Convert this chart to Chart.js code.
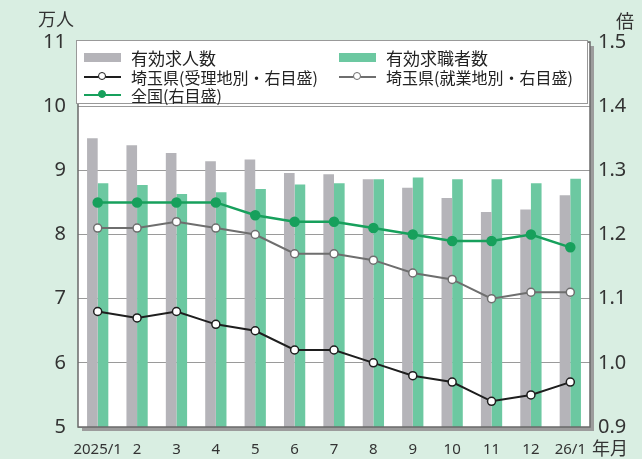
<!DOCTYPE html>
<html>
<head>
<meta charset="utf-8">
<script src="https://cdn.jsdelivr.net/npm/chart.js@4"></script>
<style>
body { margin: 0; background: #d9eee2; }
#wrap { position: relative; width: 642px; height: 459px; font-family: 'Noto Sans CJK JP', 'Noto Sans', sans-serif; color: #222; }
canvas { position: absolute; left: 0; top: 0; }
.unit { position: absolute; font-size: 18px; line-height: 20px; color: #333; }
#legend { position: absolute; left: 76px; top: 40px; width: 512px; height: 64px; background: #fff; border: 1px solid #999; box-sizing: border-box; }
.item { position: absolute; height: 18px; font-size: 16px; line-height: 18px; white-space: nowrap; }
.item.bar { font-size: 17px; }
.sw { position: absolute; left: 0; top: 4px; width: 37px; height: 9px; }
.ln { position: absolute; left: 0; top: 8px; width: 37px; height: 2px; }
.dot { position: absolute; left: 14px; top: 4px; width: 6px; height: 6px; border-radius: 50%; border: 1.5px solid; background: #fff; }
.txt { position: absolute; left: 47px; top: 0; }
</style>
</head>
<body>
<div id="wrap">
<canvas id="chart" width="642" height="459"></canvas>
<div class="unit" style="left:38px;top:8px">万人</div>
<div class="unit" style="left:616px;top:10px">倍</div>
<div class="unit" style="left:592px;top:437px">年月</div>
<div id="legend"></div>
</div>
<script>
const months = ['2025/1', '2', '3', '4', '5', '6', '7', '8', '9', '10', '11', '12', '26/1'];
const jobOffers = [9.50, 9.39, 9.27, 9.14, 9.17, 8.96, 8.94, 8.86, 8.73, 8.57, 8.35, 8.39, 8.61];
const jobSeekers = [8.80, 8.77, 8.63, 8.66, 8.71, 8.78, 8.80, 8.86, 8.89, 8.86, 8.86, 8.80, 8.87];
const saitamaReceipt = [1.08, 1.07, 1.08, 1.06, 1.05, 1.02, 1.02, 1.00, 0.98, 0.97, 0.94, 0.95, 0.97];
const saitamaWork = [1.21, 1.21, 1.22, 1.21, 1.20, 1.17, 1.17, 1.16, 1.14, 1.13, 1.10, 1.11, 1.11];
const national = [1.25, 1.25, 1.25, 1.25, 1.23, 1.22, 1.22, 1.21, 1.20, 1.19, 1.19, 1.20, 1.18];

const GRAY_BAR = '#b5b4b9';
const GREEN_BAR = '#6cc8a1';
const BLACK_LINE = '#1e1e1e';
const GRAY_LINE = '#6e6e6e';
const GREEN_LINE = '#17a05c';

// white plot area, shadow and frame
const framePlugin = {
    id: 'frame',
    beforeDraw(chart) {
        const { ctx, chartArea: a } = chart;
        ctx.save();
        ctx.fillStyle = '#9c9c9c';
        ctx.fillRect(a.left + 4, a.top + 4, a.right - a.left, a.bottom - a.top);
        ctx.fillStyle = '#fff';
        ctx.fillRect(a.left, a.top, a.right - a.left, a.bottom - a.top);
        ctx.restore();
    },
    afterDatasetsDraw(chart) {
        const { ctx, chartArea: a } = chart;
        ctx.save();
        ctx.strokeStyle = '#6a6a6a';
        ctx.lineWidth = 1.5;
        ctx.strokeRect(a.left, a.top, a.right - a.left, a.bottom - a.top);
        ctx.restore();
    }
};

const tickFont = { family: "'Noto Sans', sans-serif", size: 20 };

const chart = new Chart(document.getElementById('chart'), {
    data: {
        labels: months,
        datasets: [
            { type: 'bar', label: '有効求人数', data: jobOffers, backgroundColor: GRAY_BAR, yAxisID: 'y', order: 2, categoryPercentage: 0.54, barPercentage: 1.0 },
            { type: 'bar', label: '有効求職者数', data: jobSeekers, backgroundColor: GREEN_BAR, yAxisID: 'y', order: 2, categoryPercentage: 0.54, barPercentage: 1.0 },
            { type: 'line', label: '埼玉県(受理地別・右目盛)', data: saitamaReceipt, yAxisID: 'y1', order: 0,
              borderColor: BLACK_LINE, borderWidth: 2, pointRadius: 4, pointBackgroundColor: '#fff', pointBorderColor: BLACK_LINE, pointBorderWidth: 1.5 },
            { type: 'line', label: '埼玉県(就業地別・右目盛)', data: saitamaWork, yAxisID: 'y1', order: 1,
              borderColor: GRAY_LINE, borderWidth: 2, pointRadius: 4, pointBackgroundColor: '#fff', pointBorderColor: GRAY_LINE, pointBorderWidth: 1.5 },
            { type: 'line', label: '全国(右目盛)', data: national, yAxisID: 'y1', order: 0,
              borderColor: GREEN_LINE, borderWidth: 2.5, pointRadius: 4, pointBackgroundColor: GREEN_LINE, pointBorderColor: GREEN_LINE }
        ]
    },
    options: {
        responsive: false,
        animation: false,
        layout: { padding: { top: 42, left: 0, right: 0, bottom: 0 } },
        plugins: { legend: { display: false }, tooltip: { enabled: false } },
        scales: {
            x: {
                grid: { display: false },
                border: { display: false },
                ticks: { autoSkip: false, maxRotation: 0, color: '#333', padding: 6,
                         font: { family: "'Noto Sans', sans-serif", size: 15 } },
                afterFit(scale) { scale.height = 32; }
            },
            y: {
                position: 'left',
                min: 5, max: 11,
                ticks: { stepSize: 1, color: '#333', padding: 12, font: tickFont },
                grid: { color: '#9a9a9a', lineWidth: 1, drawTicks: false },
                border: { display: false },
                afterFit(scale) { scale.width = 78; }
            },
            y1: {
                position: 'right',
                min: 0.9, max: 1.5,
                ticks: { stepSize: 0.1, color: '#333', padding: 8, font: tickFont,
                         callback: v => Number(v).toFixed(1) },
                grid: { display: false, drawTicks: false },
                border: { display: false },
                afterFit(scale) { scale.width = 52; }
            }
        }
    },
    plugins: [framePlugin]
});

// HTML legend in two columns, taken from the dataset labels
const legendPos = [
    [7, 8], [262, 8], [7, 27], [262, 27], [7, 45]
];
const legend = document.getElementById('legend');
chart.data.datasets.forEach((ds, i) => {
    const it = document.createElement('div');
    it.className = 'item' + (ds.type === 'bar' ? ' bar' : '');
    it.style.left = legendPos[i][0] + 'px';
    it.style.top = legendPos[i][1] + 'px';
    let mark;
    if (ds.type === 'bar') {
        mark = `<span class="sw" style="background:${ds.backgroundColor}"></span>`;
    } else {
        mark = `<span class="ln" style="background:${ds.borderColor}"></span>` +
               `<span class="dot" style="border-color:${ds.pointBorderColor};background:${ds.pointBackgroundColor}"></span>`;
    }
    it.innerHTML = mark + `<span class="txt">${ds.label}</span>`;
    legend.appendChild(it);
});
</script>
</body>
</html>
